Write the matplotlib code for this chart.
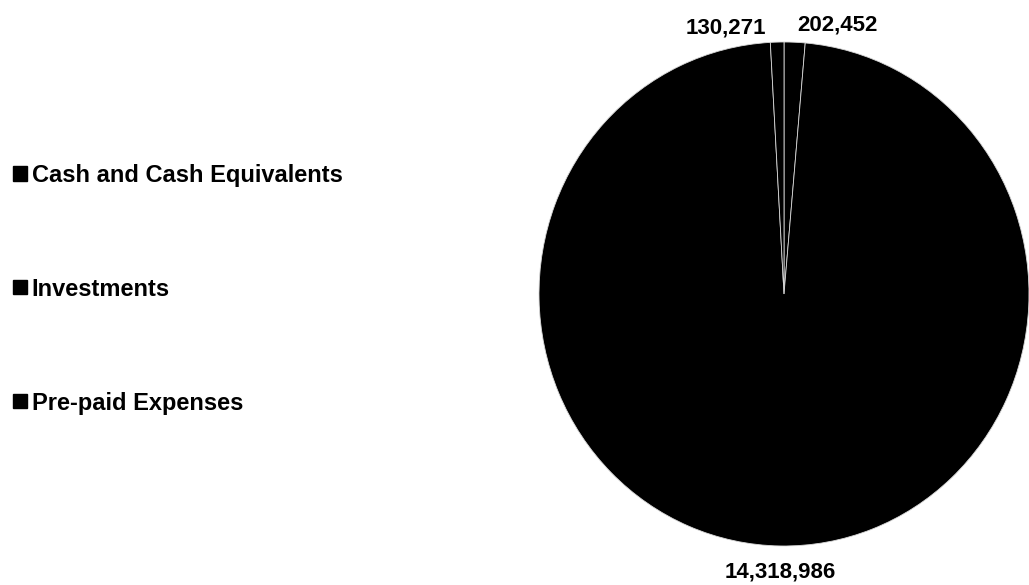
import numpy as np
import matplotlib.pyplot as plt
from matplotlib.patches import Patch

plt.rcParams['font.family'] = ['Liberation Sans', 'DejaVu Sans']

# Data
categories = ['Cash and Cash Equivalents', 'Investments', 'Pre-paid Expenses']
values = [202452, 14318986, 130271]
value_labels = ['202,452', '14,318,986', '130,271']

fig = plt.figure(figsize=(10.29, 5.85), dpi=100)

# pie area (pixels): centre (784, 294), 490 wide x 504 tall
W, H = 1029, 585
ax = fig.add_axes([539 / W, (H - 546) / H, 490 / W, 504 / H])
wedges, _ = ax.pie(values, startangle=90, counterclock=False,
                   colors=['black', 'black', 'black'],
                   wedgeprops=dict(edgecolor='#d8d8d8', linewidth=0.6))
ax.set_aspect('auto')
ax.set_xlim(-1, 1)
ax.set_ylim(-1, 1)
ax.axis('off')

# data labels outside the slices; small top slices pushed apart
nudge = [(0.175, 0.07), (0.0, -0.103), (-0.21, 0.055)]
for w, lab, (dx, dy) in zip(wedges, value_labels, nudge):
    ang = np.deg2rad((w.theta1 + w.theta2) / 2)
    x = np.cos(ang) + dx
    y = np.sin(ang) + dy
    ax.text(x, y, lab, ha='center', va='center', fontsize=16,
            fontweight='bold', clip_on=False)

# legend
handles = [Patch(facecolor='black', edgecolor='black') for _ in categories]
fig.legend(handles, categories, loc='upper left',
           bbox_to_anchor=(1 / W, 1 - 152 / H), frameon=False,
           prop={'weight': 'bold', 'size': 17},
           handlelength=0.6, handleheight=0.55, handletextpad=0.2,
           labelspacing=3.85, borderpad=0)

plt.savefig('out.png', dpi=100)
